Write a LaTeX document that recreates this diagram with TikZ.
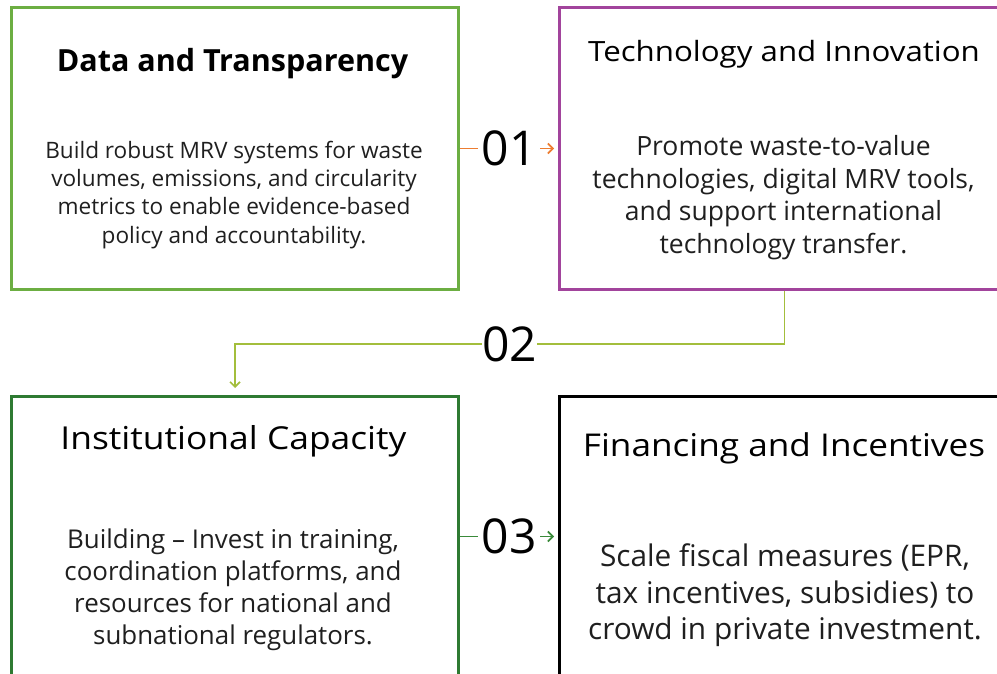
\documentclass[tikz,border=0pt]{standalone}
\usepackage{fontspec}
\setmainfont{Open Sans}
\newfontfamily\ttlfont{Open Sans}[FakeStretch=1.12]
\usetikzlibrary{arrows.meta}
\definecolor{gA}{HTML}{6CAE42}
\definecolor{pB}{HTML}{A2449C}
\definecolor{gC}{HTML}{2E7A32}
\definecolor{orA}{HTML}{ED7D31}
\definecolor{ygB}{HTML}{A3BE3C}
\definecolor{gD}{HTML}{3A8A3A}
\definecolor{bodytxt}{HTML}{1F1F1F}
\tikzset{
  panel/.style={draw, line width=3pt, minimum width=447pt, minimum height=282pt, inner sep=0pt, anchor=north west},
  ttl/.style={inner sep=0pt, align=center, text=black, anchor=base},
  bodyblk/.style={inner sep=0pt, align=center, text=bodytxt, anchor=base},
  numlbl/.style={font=\fontsize{48}{48}\selectfont, inner sep=0pt, text=black},
  conn/.style={line width=1.6pt, -{Straight Barb[length=5pt,width=10pt,line width=1.6pt]}}
}
\begin{document}
\begin{tikzpicture}[x=1pt,y=-1pt]
\useasboundingbox (0,0) rectangle (997,674);
\node[panel, draw=gA] (b1) at (10,6) {};
\node[panel, draw=pB, minimum width=450pt] (b2) at (558,6) {};
\node[panel, draw=gC, minimum height=280pt] (b3) at (10,395) {};
\node[panel, draw=black, minimum width=450pt, minimum height=280pt] (b4) at (558,395) {};
% titles
\node[ttl, font=\fontsize{30.5}{34}\selectfont\bfseries] (t1) at (232.5,71.7) {Data and Transparency};
\node[ttl, font=\ttlfont\fontsize{27.9}{32}\selectfont] (t2) at (784,61.7) {Technology and Innovation};
\node[ttl, font=\ttlfont\fontsize{31.6}{36}\selectfont] (t3) at (233.5,449.3) {Institutional Capacity};
\node[ttl, font=\ttlfont\fontsize{31.4}{36}\selectfont] (t4) at (784,456.7) {Financing and Incentives};
% bodies (base anchor = baseline of last line)
\node[bodyblk, font=\fontsize{22.6}{28.3}\selectfont] (d1) at (234,243.2) {Build robust MRV systems for waste\\volumes, emissions, and circularity\\metrics to enable evidence-based\\policy and accountability.};
\node[bodyblk, font=\fontsize{26.5}{33}\selectfont] (d2) at (783.5,254) {Promote waste-to-value\\technologies, digital MRV tools,\\and support international\\technology transfer.};
\node[bodyblk, font=\fontsize{25.9}{32}\selectfont] (d3) at (233,644) {Building -- Invest in training,\\coordination platforms, and\\resources for national and\\subnational regulators.};
\node[bodyblk, font=\fontsize{29.8}{36.5}\selectfont] (d4) at (785,639.5) {Scale fiscal measures (EPR,\\tax incentives, subsidies) to\\crowd in private investment.};
% connectors
\draw[conn, draw=orA, shorten >=4pt] (b1.east) -- node[numlbl, fill=white, minimum width=62pt, minimum height=40pt] (n1) {01} (b2.west);
\draw[conn, draw=ygB, shorten >=7pt] (b2.south) -- ++(0,53) coordinate (c2) -| node[pos=0.25, numlbl, fill=white] (n2) {02} (b3.north);
\draw[conn, draw=gD, shorten >=4pt] (b3.east) -- node[numlbl, fill=white, minimum width=62pt, minimum height=40pt] (n3) {03} (b4.west);
\end{tikzpicture}
\end{document}
